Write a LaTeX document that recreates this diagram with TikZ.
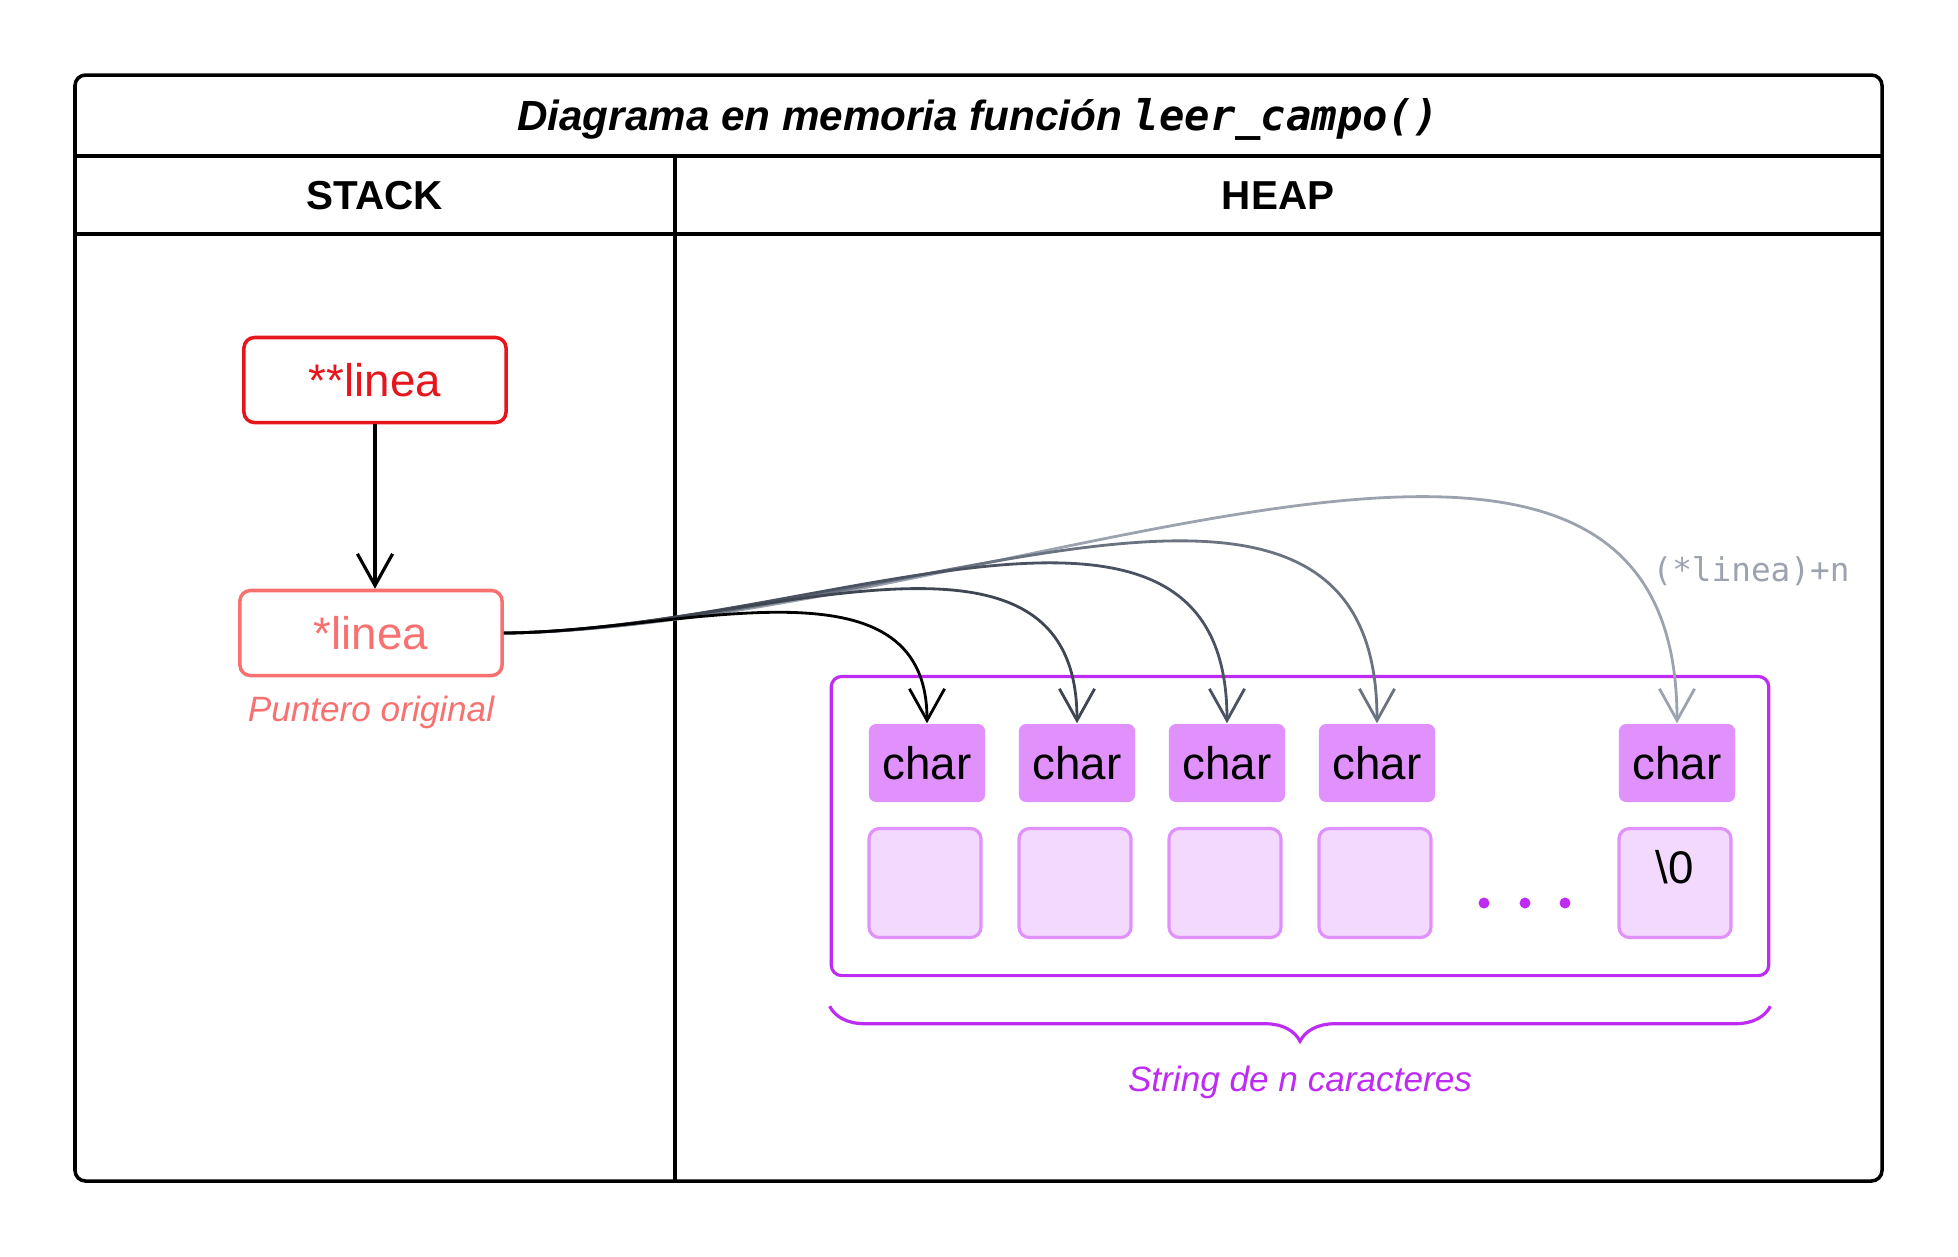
\documentclass[tikz,border=0pt]{standalone}
\usepackage{fontspec}
\setmainfont{Liberation Sans}
\setmonofont{DejaVu Sans Mono}
\usetikzlibrary{positioning}
\usetikzlibrary{arrows.meta}
\usetikzlibrary{decorations.pathreplacing}
\definecolor{ptrred}{HTML}{E5161C}
\definecolor{ptrpink}{HTML}{F87171}
\definecolor{strpurple}{HTML}{BE2BF3}
\definecolor{charfill}{HTML}{E091FC}
\definecolor{cellfill}{HTML}{F3D9FD}
\definecolor{grayA}{HTML}{3F4652}
\definecolor{grayB}{HTML}{4B5261}
\definecolor{grayC}{HTML}{6B7280}
\definecolor{grayD}{HTML}{9CA3AF}

\begin{document}
\begin{tikzpicture}[x=0.01cm, y=-0.01cm,
        tablebox/.style={line width=1pt, rounded corners=3pt},
        headtext/.style={font=\fontsize{11.5}{14}\selectfont\bfseries},
        ptrbox/.style={draw, rectangle, rounded corners=3pt, line width=1pt, minimum width=2.62cm, minimum height=0.85cm, font=\fontsize{13}{15}\selectfont},
        charbox/.style={rectangle, fill=charfill, rounded corners=2pt, minimum width=1.16cm, minimum height=0.78cm, font=\fontsize{13}{15}\selectfont},
        cellbox/.style={draw=charfill, fill=cellfill, rectangle, rounded corners=3pt, line width=0.9pt, minimum width=1.12cm, minimum height=1.09cm},
        pointer/.style={-{Straight Barb[length=9pt, width=10pt]}, line width=0.8pt}]
    \useasboundingbox (0,0) rectangle (1958,1256);

    % Table frame
    \draw[tablebox] (75,75) rectangle (1882,1181);
    \draw[line width=1pt] (75,156) -- (1882,156);
    \draw[line width=1pt] (75,234) -- (1882,234);
    \draw[line width=1pt] (675,156) -- (675,1181);
    \node[font=\fontsize{12}{14}\selectfont\bfseries\itshape] (title) at (978,119) {Diagrama en memoria función \texttt{leer\_campo()}};
    \node[headtext] (stack) at (375,196) {STACK};
    \node[headtext] (heap) at (1278,196) {HEAP};

    % Stack pointers
    \node[ptrbox, draw=ptrred, text=ptrred] (dptr) at (375,380) {**linea};
    \node[ptrbox, draw=ptrpink, text=ptrpink] (orig) at (371,633) {*linea};
    \node[below=0.06cm of orig, font=\fontsize{10}{12}\selectfont\itshape, text=ptrpink] (origlabel) {Puntero original};
    \draw[pointer, line width=0.9pt] (dptr.south) -- (dptr.south |- orig.north);

    % Heap string
    \node[draw=strpurple, rectangle, rounded corners=3pt, line width=0.9pt, minimum width=9.37cm, minimum height=2.99cm] (strbox) at (1300,826) {};
    \foreach \i in {1,...,4} {
        \node[charbox] (char\i) at (777+150*\i,763) {char};
        \node[cellbox] (cell\i) at (775+150*\i,883) {};
    }
    \node[charbox] (charn) at (1677,763) {char};
    \node[cellbox] (celln) at (1675,883) {};
    \node[font=\fontsize{13}{15}\selectfont] (zero) at (1675,867) {\textbackslash 0};
    \foreach \x in {1484,1525,1565}
        \fill[strpurple] (\x,903) circle[radius=0.055cm];
    \draw[strpurple, line width=0.9pt, decorate, decoration={brace, mirror, amplitude=0.35cm}]
        ([yshift=-0.29cm]strbox.south west) -- ([yshift=-0.29cm]strbox.south east)
        node[midway, below=0.46cm, font=\fontsize{10}{12}\selectfont\itshape, text=strpurple] (strlabel) {String de n caracteres};

    % Pointer arithmetic
    \draw[pointer, grayD] (orig.east) .. controls (1000,625) and (1677,280) .. (charn.north);
    \draw[pointer, grayC] (orig.east) .. controls (900,628) and (1377,380) .. (char4.north);
    \draw[pointer, grayB] (orig.east) .. controls (820,630) and (1227,430) .. (char3.north);
    \draw[pointer, grayA] (orig.east) .. controls (750,632) and (1077,490) .. (char2.north);
    \draw[pointer, black] (orig.east) .. controls (680,632) and (927,550) .. (char1.north);
    \node[font=\fontsize{9.3}{11}\ttfamily, text=grayD] (offset) at (1751,571) {(*linea)+n};
\end{tikzpicture}
\end{document}
